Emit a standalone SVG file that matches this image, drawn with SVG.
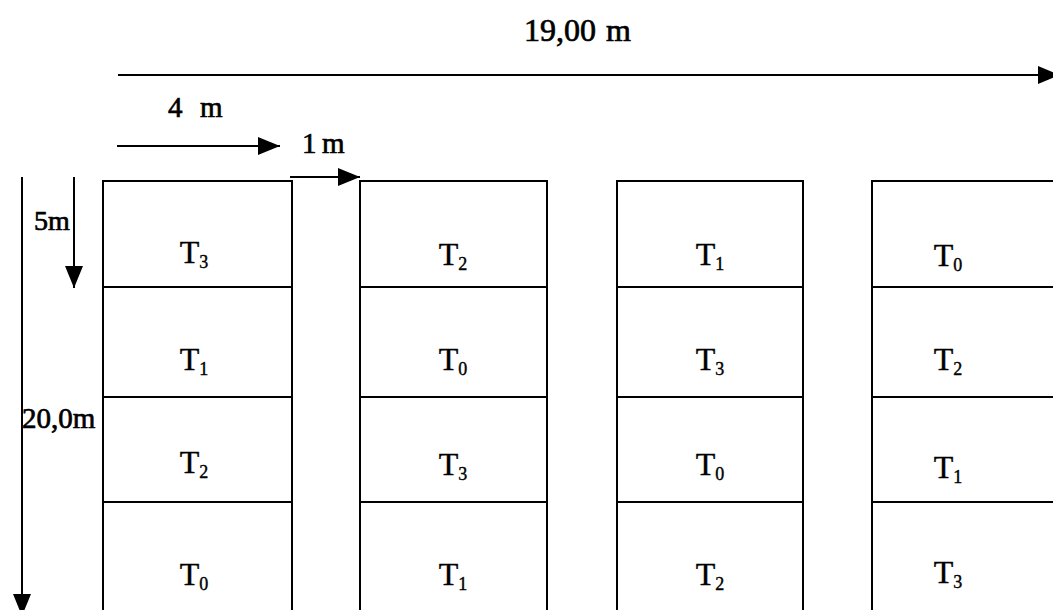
<svg xmlns="http://www.w3.org/2000/svg" width="1053" height="610" viewBox="0 0 1053 610">
<style>
.cell{fill:#fff;stroke:#000;stroke-width:2}
.lbl{fill:#000;text-anchor:middle;stroke:#000;stroke-width:0.4}
.dim{fill:#000;stroke:#000;stroke-width:0.7}
.dl{fill:none;stroke:#000;stroke-width:2}
</style>
<defs>
<marker id="ah" markerUnits="userSpaceOnUse" markerWidth="24" markerHeight="20" refX="22" refY="9" orient="auto">
<path d="M0,0 L22,9 L0,18 z" fill="#000"/>
</marker>
</defs>
<rect width="1053" height="610" fill="#fff"/>
<g id="connectors">
<line class="dl" x1="118" y1="75" x2="1060" y2="75" marker-end="url(#ah)"/>
<line class="dl" x1="117" y1="146" x2="280" y2="146" marker-end="url(#ah)"/>
<line class="dl" x1="290" y1="177" x2="360" y2="177" marker-end="url(#ah)"/>
<line class="dl" x1="74" y1="177" x2="74" y2="288" marker-end="url(#ah)"/>
<line class="dl" x1="22" y1="177" x2="22" y2="616" marker-end="url(#ah)"/>
</g>
<g id="dimension-labels" font-family="'Liberation Serif', 'DejaVu Serif', serif">
<text class="dim" x="524" y="41" font-size="32">19,00 <tspan x="606">m</tspan></text>
<text class="dim" x="168" y="117" font-size="29">4 <tspan x="200">m</tspan></text>
<text class="dim" x="302" y="153" font-size="29">1 <tspan x="322">m</tspan></text>
<text class="dim" x="34" y="230" font-size="28">5m</text>
<text class="dim" x="22" y="428" font-size="29">20,0m</text>
</g>
<g font-family="'Liberation Serif', 'DejaVu Serif', serif" font-size="32">
<g id="c1r1"><rect class="cell" x="103" y="181" width="189" height="106"/><text class="lbl" x="194" y="263">T<tspan font-size="18" dy="5">3</tspan></text></g>
<g id="c1r2"><rect class="cell" x="103" y="287" width="189" height="110"/><text class="lbl" x="194" y="370">T<tspan font-size="18" dy="5">1</tspan></text></g>
<g id="c1r3"><rect class="cell" x="103" y="397" width="189" height="105"/><text class="lbl" x="194" y="473">T<tspan font-size="18" dy="5">2</tspan></text></g>
<g id="c1r4"><rect class="cell" x="103" y="502" width="189" height="120"/><text class="lbl" x="194" y="585">T<tspan font-size="18" dy="5">0</tspan></text></g>
<g id="c2r1"><rect class="cell" x="360" y="181" width="187" height="106"/><text class="lbl" x="453" y="265">T<tspan font-size="18" dy="5">2</tspan></text></g>
<g id="c2r2"><rect class="cell" x="360" y="287" width="187" height="110"/><text class="lbl" x="453" y="370">T<tspan font-size="18" dy="5">0</tspan></text></g>
<g id="c2r3"><rect class="cell" x="360" y="397" width="187" height="105"/><text class="lbl" x="453" y="475">T<tspan font-size="18" dy="5">3</tspan></text></g>
<g id="c2r4"><rect class="cell" x="360" y="502" width="187" height="120"/><text class="lbl" x="453" y="585">T<tspan font-size="18" dy="5">1</tspan></text></g>
<g id="c3r1"><rect class="cell" x="617" y="181" width="186" height="106"/><text class="lbl" x="710" y="265">T<tspan font-size="18" dy="5">1</tspan></text></g>
<g id="c3r2"><rect class="cell" x="617" y="287" width="186" height="110"/><text class="lbl" x="710" y="370">T<tspan font-size="18" dy="5">3</tspan></text></g>
<g id="c3r3"><rect class="cell" x="617" y="397" width="186" height="105"/><text class="lbl" x="710" y="475">T<tspan font-size="18" dy="5">0</tspan></text></g>
<g id="c3r4"><rect class="cell" x="617" y="502" width="186" height="120"/><text class="lbl" x="710" y="585">T<tspan font-size="18" dy="5">2</tspan></text></g>
<g id="c4r1"><rect class="cell" x="872" y="181" width="200" height="106"/><text class="lbl" x="948" y="266">T<tspan font-size="18" dy="5">0</tspan></text></g>
<g id="c4r2"><rect class="cell" x="872" y="287" width="200" height="110"/><text class="lbl" x="948" y="370">T<tspan font-size="18" dy="5">2</tspan></text></g>
<g id="c4r3"><rect class="cell" x="872" y="397" width="200" height="105"/><text class="lbl" x="948" y="478">T<tspan font-size="18" dy="5">1</tspan></text></g>
<g id="c4r4"><rect class="cell" x="872" y="502" width="200" height="120"/><text class="lbl" x="948" y="583">T<tspan font-size="18" dy="5">3</tspan></text></g>
</g>
</svg>
